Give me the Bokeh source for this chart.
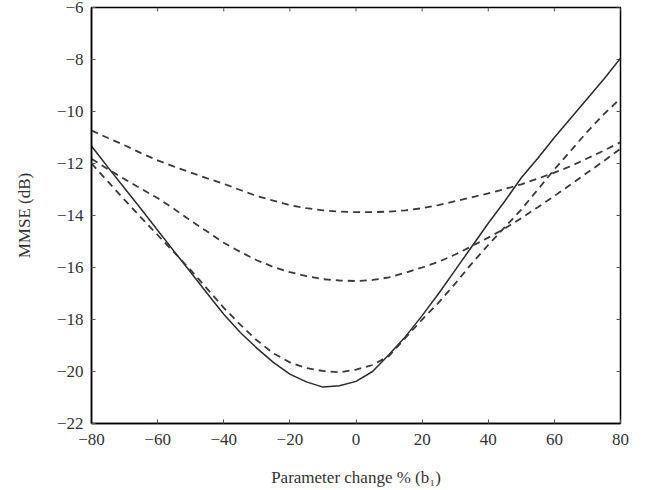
from bokeh.plotting import figure
from bokeh.models import FixedTicker, Range1d
from bokeh.embed import file_html
from bokeh.resources import INLINE

# Parameter change (%) sample points
x_vals = [-80, -75, -70, -65, -60, -55, -50, -45, -40, -35, -30, -25, -20, -15, -10, -5, 0,
          5, 10, 15, 20, 25, 30, 35, 40, 45, 50, 55, 60, 65, 70, 75, 80]

# Solid curve
solid = [-11.33, -12.15, -12.95, -13.75, -14.57, -15.38, -16.18, -17.0, -17.8, -18.5, -19.1,
         -19.65, -20.1, -20.4, -20.6, -20.55, -20.38,
         -20.0, -19.35, -18.65, -17.85, -17.0, -16.1, -15.2, -14.3, -13.45, -12.55, -11.8,
         -11.0, -10.25, -9.5, -8.75, -7.95]
# Dashed curves
dashed_top = [-10.73, -11.02, -11.3, -11.6, -11.88, -12.12, -12.35, -12.57, -12.78, -13.02, -13.25,
              -13.43, -13.6, -13.72, -13.8, -13.85, -13.87,
              -13.87, -13.85, -13.8, -13.72, -13.6, -13.45, -13.3, -13.15, -12.98, -12.8, -12.58,
              -12.35, -12.1, -11.8, -11.5, -11.18]
dashed_mid = [-11.82, -12.22, -12.6, -12.97, -13.33, -13.75, -14.2, -14.62, -15.05, -15.4, -15.72,
              -15.98, -16.18, -16.33, -16.45, -16.5, -16.52,
              -16.48, -16.38, -16.2, -16.0, -15.78, -15.5, -15.18, -14.85, -14.5, -14.1, -13.68,
              -13.25, -12.8, -12.35, -11.9, -11.43]
dashed_low = [-12.0, -12.7, -13.4, -14.08, -14.75, -15.42, -16.1, -16.82, -17.55, -18.2, -18.8,
              -19.3, -19.65, -19.87, -19.98, -20.03, -19.93,
              -19.75, -19.4, -18.7, -18.0, -17.35, -16.62, -15.85, -15.13, -14.45, -13.77, -13.0,
              -12.23, -11.5, -10.77, -10.1, -9.5]

x_ticks = [-80, -60, -40, -20, 0, 20, 40, 60, 80]
x_tick_labels = ["\u221280", "\u221260", "\u221240", "\u221220", "0", "20", "40", "60", "80"]
y_ticks = [-22, -20, -18, -16, -14, -12, -10, -8, -6]
y_tick_labels = ["\u221222", "\u221220", "\u221218", "\u221216", "\u221214", "\u221212",
                 "\u221210", "\u22128", "\u22126"]

FONT = "Liberation Serif"
X0, X1, Y0, Y1 = -80, 80, -22, -6

p = figure(width=645, height=490, output_backend="svg", toolbar_location=None,
           x_range=Range1d(X0, X1), y_range=Range1d(Y0, Y1),
           x_axis_label="Parameter change % (b\u2081)", y_axis_label="MMSE (dB)")
p.min_border_left = 91
p.min_border_right = 25
p.min_border_top = 7
p.min_border_bottom = 67
p.background_fill_color = "white"
p.border_fill_color = "white"
p.outline_line_color = "black"
p.outline_line_width = 1.5
p.grid.visible = False

def style_axis(ax, ticks, labels):
    ax.ticker = FixedTicker(ticks=ticks)
    ax.major_label_overrides = {t: l for t, l in zip(ticks, labels)}
    ax.major_tick_in = 4
    ax.major_tick_out = 0
    ax.minor_tick_in = 0
    ax.minor_tick_out = 0
    ax.axis_line_color = "black"
    ax.axis_line_width = 1.5
    ax.major_tick_line_color = "#555555"
    ax.major_label_text_font = FONT
    ax.major_label_text_font_size = "17px"
    ax.major_label_text_color = "#333333"
    ax.axis_label_text_font = FONT
    ax.axis_label_text_font_size = "17px"
    ax.axis_label_text_font_style = "normal"
    ax.axis_label_text_color = "#333333"

style_axis(p.xaxis[0], x_ticks, x_tick_labels)
style_axis(p.yaxis[0], y_ticks, y_tick_labels)
p.xaxis[0].major_label_standoff = 10
p.xaxis[0].axis_label_standoff = 20
p.yaxis[0].major_label_standoff = 8
p.yaxis[0].axis_label_standoff = 20

# inward ticks along the top and right edges of the frame
tick_len_y = 4 * (Y1 - Y0) / 416
tick_len_x = 4 * (X1 - X0) / 529
p.segment(x0=x_ticks, y0=[Y1] * len(x_ticks), x1=x_ticks, y1=[Y1 - tick_len_y] * len(x_ticks),
          line_color="#555555", line_width=1)
p.segment(x0=[X1] * len(y_ticks), y0=y_ticks, x1=[X1 - tick_len_x] * len(y_ticks), y1=y_ticks,
          line_color="#555555", line_width=1)

p.line(x_vals, solid, line_color="#2a2a2a", line_width=1.5)
for ys in (dashed_top, dashed_mid, dashed_low):
    p.line(x_vals, ys, line_color="#3a3a3a", line_width=1.8, line_dash="7 5")

open("out.html", "w").write(file_html(p, INLINE))
